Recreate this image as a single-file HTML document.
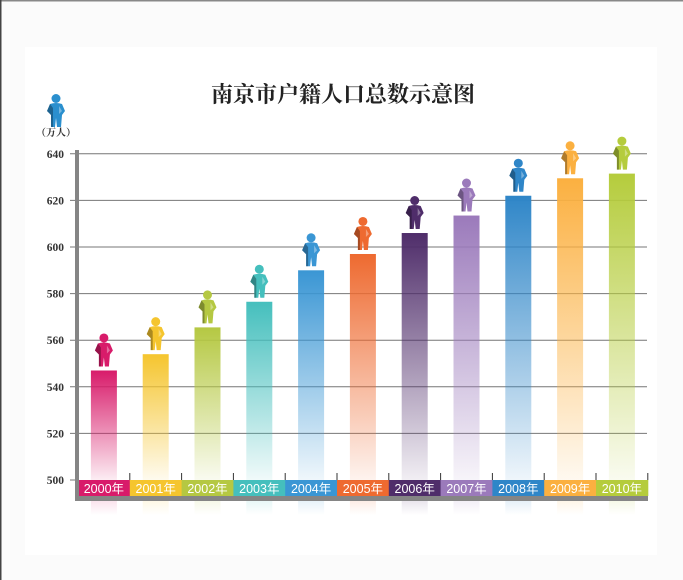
<!DOCTYPE html>
<html><head><meta charset="utf-8"><style>
body{margin:0;background:#fbfbfb;}
svg{display:block;font-family:"Liberation Serif","Noto Serif CJK SC",serif;}
</style></head><body>
<svg id="s" width="683" height="580" viewBox="0 0 683 580" xmlns="http://www.w3.org/2000/svg">
<rect x="0" y="0" width="683" height="580" fill="#fbfbfb"/>
<rect x="0" y="0" width="683" height="1.5" fill="#888"/>
<rect x="0" y="0" width="1.5" height="580" fill="#444"/>
<rect x="25" y="47" width="632" height="508" fill="#fff"/>
<text x="343" y="102" text-anchor="middle" font-size="22" font-weight="bold" fill="#222">南京市户籍人口总数示意图</text>
<text x="56" y="136" text-anchor="middle" font-size="10" font-weight="bold" fill="#333">（万人）</text>
<g id="grid"></g>
</svg>
<script>
const s=document.getElementById('grid');const NS='http://www.w3.org/2000/svg';
let h='';
const Y=v=>480-(v-500)*2.33;
for(let v=500;v<=640;v+=20){const y=Y(v);
 if(v>500)h+=`<line x1="70" y1="${y}" x2="647" y2="${y}" stroke="#777" stroke-width="1"/>`;
 else h+=`<line x1="70" y1="${y}" x2="78" y2="${y}" stroke="#777"/>`;
 h+=`<text x="64" y="${y+4}" text-anchor="end" font-size="11.5" font-weight="bold" fill="#333">${v}</text>`;}
const cols=['#d81b6a','#f5c52e','#b5c842','#45bfbd','#3a96d4','#ee6a30','#4f2d6a','#9b7abb','#2f86c8','#fbb040','#b5cc3c'];
const vals=[547,554,565.5,576.5,590,597,606,613.5,622,629.5,631.5];
const x0=78,bw=51.8;
function person(cx,top,c,i){
 return `<g transform="translate(${cx-9},${top})">
 <circle cx="9" cy="4.5" r="4.5" fill="${c}"/>
 <path d="M3 10 Q9 8 15 10 L18 17 L15 21 L14 33 L10 33 L9 24 L8 33 L4 33 L4 21 L0 17 Z" fill="${c}"/>
 <path d="M3 10 L0 17 L4 21 L4 33 L6 33 L6 14 Z" fill="#000" opacity="0.3"/>
 <path d="M12 12 L15 17 L12 20 Z" fill="#fff" opacity="0.35"/></g>`;}
let defs='<defs>';
vals.forEach((v,i)=>{const c=cols[i];
 defs+=`<linearGradient id="g${i}" x1="0" y1="0" x2="0" y2="1"><stop offset="0" stop-color="${c}"/><stop offset="1" stop-color="${c}" stop-opacity="0.08"/></linearGradient>`;
 defs+=`<linearGradient id="r${i}" x1="0" y1="0" x2="0" y2="1"><stop offset="0" stop-color="${c}" stop-opacity="0.12"/><stop offset="1" stop-color="${c}" stop-opacity="0"/></linearGradient>`;});
defs+='</defs>';
h=defs+h;
vals.forEach((v,i)=>{const c=cols[i];const bx=x0+i*bw;const cx=bx+bw/2;const t=Y(v);
 h+=`<rect x="${cx-13}" y="${t}" width="26" height="${480-t}" fill="url(#g${i})"/>`;
 h+=`<rect x="${cx-13}" y="501" width="26" height="14" fill="url(#r${i})"/>`;
 h+=person(cx,t-37,c,i);
 h+=`<rect x="${bx}" y="480" width="${bw+0.5}" height="16" fill="${c}"/>`;
 h+=`<text x="${cx}" y="493" text-anchor="middle" font-size="12.5" fill="#fff" font-family="Liberation Sans,Noto Sans CJK SC,sans-serif">${2000+i}年</text>`;
 h+=`<line x1="${bx+bw}" y1="473" x2="${bx+bw}" y2="480" stroke="#333"/>`;});
h+=`<rect x="75" y="150" width="4" height="351" fill="#858585"/>`;
h+=`<rect x="75" y="496" width="573" height="5" fill="#858585"/>`;
h+=person(56,94,'#2a8fce',0);
s.innerHTML=h;
</script>
</body></html>
